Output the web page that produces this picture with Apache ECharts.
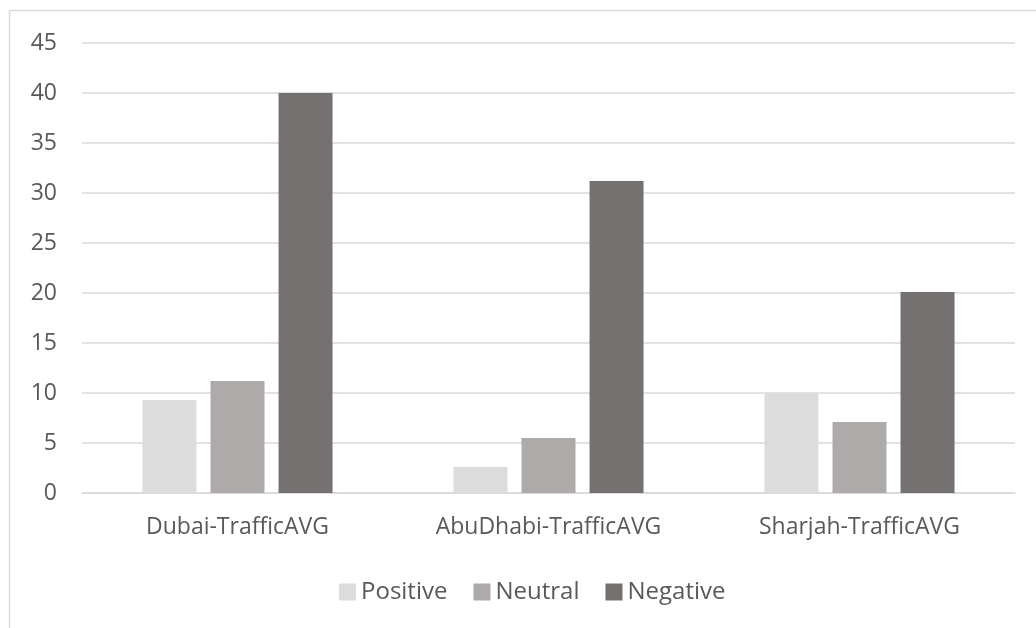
<!DOCTYPE html>
<html>
<head>
<meta charset="utf-8">
<script src="https://cdn.jsdelivr.net/npm/echarts@6/dist/echarts.min.js"></script>
<style>
  html, body { margin: 0; padding: 0; background: #ffffff; }
  #chart { width: 1036px; height: 628px; }
</style>
</head>
<body>
<div id="chart"></div>
<script>
// Average traffic sentiment per emirate
const categories = ['Dubai-TrafficAVG', 'AbuDhabi-TrafficAVG', 'Sharjah-TrafficAVG'];
const seriesNames = ['Positive', 'Neutral', 'Negative'];
const positive = [9.3, 2.6, 10.0];
const neutral = [11.2, 5.5, 7.1];
const negative = [40.0, 31.2, 20.1];
const colors = ['#dcdcdc', '#aeaaa9', '#757170'];

const textColor = '#595959';
const fontFamily = '"Open Sans", "Noto Sans", sans-serif';

const chart = echarts.init(document.getElementById('chart'), null, { renderer: 'canvas' });

const values = [positive, neutral, negative];

chart.setOption({
  animation: false,
  backgroundColor: '#ffffff',
  graphic: [{
    type: 'rect',
    shape: { x: 9.5, y: 10.5, width: 1040, height: 640 },
    style: { fill: 'none', stroke: '#d9d9d9', lineWidth: 1.5 },
    silent: true
  }],
  legend: {
    data: seriesNames,
    bottom: 19,
    left: 334,
    itemWidth: 17,
    itemHeight: 17,
    itemGap: 26,
    icon: 'rect',
    textStyle: { color: textColor, fontFamily: fontFamily, fontSize: 24 }
  },
  grid: { left: 82, right: 21, top: 43, bottom: 135, containLabel: false },
  xAxis: {
    type: 'category',
    data: categories,
    axisLine: { lineStyle: { color: '#d9d9d9', width: 1.5 } },
    axisTick: { show: false },
    axisLabel: { color: textColor, fontFamily: fontFamily, fontSize: 23, margin: 23 }
  },
  yAxis: {
    type: 'value',
    min: 0,
    max: 45,
    interval: 5,
    axisLine: { show: false },
    axisTick: { show: false },
    splitLine: { lineStyle: { color: '#d9d9d9', width: 1.5 } },
    axisLabel: { color: textColor, fontFamily: fontFamily, fontSize: 23, margin: 25 }
  },
  series: seriesNames.map((name, i) => ({
    name: name,
    type: 'bar',
    data: values[i],
    barWidth: 54,
    barGap: '26%',
    itemStyle: { color: colors[i] }
  }))
});
</script>
</body>
</html>
